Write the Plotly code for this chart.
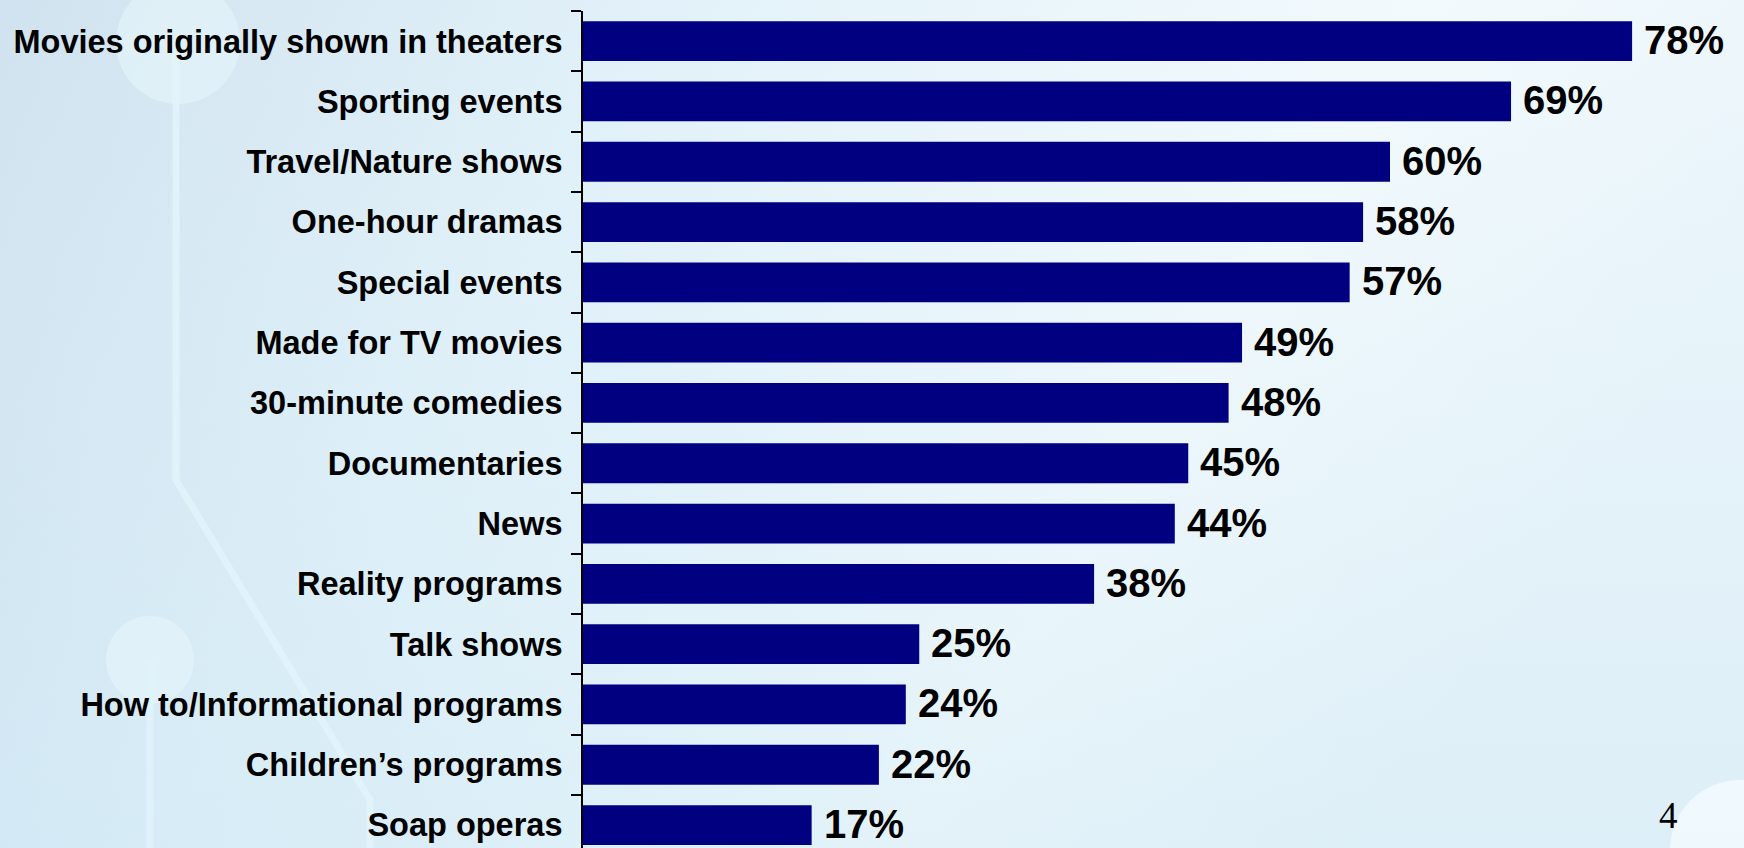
import plotly.graph_objects as go

categories = [
    "Movies originally shown in theaters",
    "Sporting events",
    "Travel/Nature shows",
    "One-hour dramas",
    "Special events",
    "Made for TV movies",
    "30-minute comedies",
    "Documentaries",
    "News",
    "Reality programs",
    "Talk shows",
    "How to/Informational programs",
    "Children\u2019s programs",
    "Soap operas",
]
values = [78, 69, 60, 58, 57, 49, 48, 45, 44, 38, 25, 24, 22, 17]
value_labels = [f"{v}%" for v in values]
page_number = "4"

W, H = 1744, 848
ML, MR, MT, MB = 583, 0, 11, 0
px_per_unit = 13.45
xmax = (W - ML - MR) / px_per_unit
cat_px = 60.3
ytop = (H - MT - MB) / cat_px - 0.5
pw = W - ML - MR
ph = H - MT - MB

bg_svg = (
    "data:image/svg+xml;utf8,"
    "<svg xmlns='http://www.w3.org/2000/svg' width='1744' height='848'>"
    "<defs><linearGradient id='g' x1='0' y1='0' x2='1' y2='0.3'>"
    "<stop offset='0' stop-color='%23c1d9ea'/>"
    "<stop offset='0.35' stop-color='%23d9edf7'/>"
    "<stop offset='0.75' stop-color='%23eef8fc'/>"
    "<stop offset='1' stop-color='%23e4f2f9'/>"
    "</linearGradient>"
    "<linearGradient id='v' x1='0' y1='0' x2='0' y2='1'>"
    "<stop offset='0' stop-color='%23ffffff' stop-opacity='0.25'/>"
    "<stop offset='1' stop-color='%23cfe8f4' stop-opacity='0.35'/>"
    "</linearGradient></defs>"
    "<rect width='1744' height='848' fill='url(%23g)'/>"
    "<rect width='1744' height='848' fill='url(%23v)'/>"
    "<circle cx='178' cy='42' r='62' fill='%23e2f3fa' opacity='0.7'/>"
    "<polyline points='176,40 176,480 370,800 370,848' fill='none' stroke='%23e2f4fb' stroke-width='7' opacity='0.8'/>"
    "<circle cx='150' cy='660' r='44' fill='%23e2f3fa' opacity='0.8'/>"
    "<line x1='150' y1='660' x2='150' y2='848' stroke='%23e2f4fb' stroke-width='7' opacity='0.8'/>"
    "<circle cx='1740' cy='850' r='70' fill='%23f4fbfe' opacity='0.8'/>"
    "</svg>"
)

fig = go.Figure()
fig.add_trace(go.Bar(
    x=values,
    y=categories,
    orientation="h",
    marker=dict(color="#000080", line=dict(width=0)),
    width=0.66,
    hoverinfo="skip",
))

for v, c, t in zip(values, categories, value_labels):
    fig.add_annotation(
        x=v, y=c, text=t, showarrow=False, xanchor="left", yanchor="middle",
        xshift=10, yshift=1,
        font=dict(family="Liberation Sans, Arial, sans-serif", size=40, color="black", weight="bold"),
    )

fig.add_annotation(
    x=(1668 - ML) / pw, y=(H - MB - 815) / ph, xref="paper", yref="paper",
    text=page_number, showarrow=False, xanchor="center", yanchor="middle",
    font=dict(family="Liberation Serif, Times New Roman, serif", size=37, color="black"),
)

fig.add_layout_image(dict(
    source=bg_svg, xref="paper", yref="paper",
    x=-ML / pw, y=1 + MT / ph, sizex=W / pw, sizey=H / ph,
    xanchor="left", yanchor="top", sizing="stretch", layer="below",
))

fig.update_layout(
    width=W, height=H,
    margin=dict(l=ML, r=MR, t=MT, b=MB, pad=0),
    paper_bgcolor="#d9edf7",
    plot_bgcolor="rgba(0,0,0,0)",
    showlegend=False,
    xaxis=dict(range=[0, xmax], visible=False, fixedrange=True),
    yaxis=dict(
        type="category",
        categoryorder="array",
        categoryarray=categories,
        range=[ytop, -0.5],
        showline=True, linecolor="black", linewidth=2,
        ticks="outside", ticklen=10, tickwidth=2, tickcolor="black",
        tickson="boundaries",
        ticklabelstandoff=12,
        showgrid=False, zeroline=False,
        tickfont=dict(family="Liberation Sans, Arial, sans-serif", size=32.5, color="black", weight="bold"),
    ),
)

fig.write_html("out.html")
